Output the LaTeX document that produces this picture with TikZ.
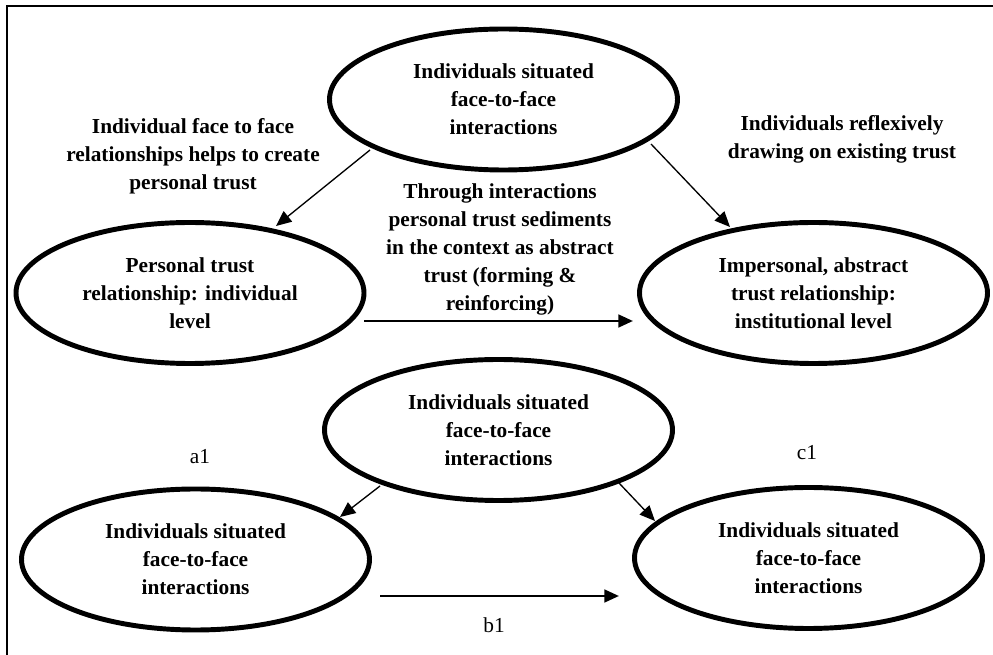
\documentclass[tikz,border=0pt]{standalone}
\usepackage{fontspec}
\setmainfont{Liberation Serif}
\usetikzlibrary{shapes.geometric,arrows.meta}
\tikzset{
  oval/.style={draw, ellipse, line width=3.7pt, minimum width=261pt, minimum height=105.75pt, inner sep=0pt, align=center, font=\fontsize{16pt}{21pt}\selectfont\bfseries},
  lbl/.style={align=center, inner sep=0pt, font=\fontsize{16pt}{21pt}\selectfont\bfseries},
  tag/.style={inner sep=0pt, font=\fontsize{16pt}{21pt}\selectfont},
  thinarrow/.style={line width=1pt, -{Triangle[length=11.5pt,width=10pt]}},
  thickarrow/.style={line width=2pt, -{Triangle[length=11pt,width=9.5pt]}},
}
\begin{document}
\begin{tikzpicture}[x=0.75pt,y=-0.75pt]
\useasboundingbox (0,0) rectangle (993,655);
\draw[line width=1.2pt] (7,655) -- (7,6) -- (993,6);

\node[oval] (top) at (503.5,99.5) {Individuals situated\\face-to-face\\interactions};
\node[oval] (left) at (190,293) {Personal trust\\relationship: individual\\level};
\node[oval] (right) at (813.5,293) {Impersonal, abstract\\trust relationship:\\institutional level};
\node[oval] (mid) at (498.5,430) {Individuals situated\\face-to-face\\interactions};
\node[oval] (bl) at (195.5,559.5) {Individuals situated\\face-to-face\\interactions};
\node[oval] (br) at (808.5,558) {Individuals situated\\face-to-face\\interactions};

\node[lbl] (t1) at (193,156.5) {Individual face to face\\relationships helps to create\\personal trust};
\node[lbl] (t2) at (842,139.5) {Individuals reflexively\\drawing on existing trust};
\node[lbl] (t3) at (500,249) {Through interactions\\personal trust sediments\\in the context as abstract\\trust (forming \&\\reinforcing)};
\node[tag] (a1) at (200,457) {a1};
\node[tag] (c1) at (807,453) {c1};
\node[tag] (b1) at (494,625) {b1};

\coordinate (s1) at (370,150);
\coordinate (e1) at (276,226);
\coordinate (s2) at (651,144);
\coordinate (e2) at (730,227);
\coordinate (s3) at (364,321);
\coordinate (e3) at (633,321);
\coordinate (s4) at (380,486);
\coordinate (e4) at (340,517);
\coordinate (s5) at (619,483);
\coordinate (e5) at (655,521);
\coordinate (s6) at (380,596);
\coordinate (e6) at (619,596);

\draw[thinarrow] (s1) -- (e1);
\draw[thinarrow] (s2) -- (e2);
\draw[thickarrow] (s3) -- (e3);
\draw[thinarrow] (s4) -- (e4);
\draw[thinarrow] (s5) -- (e5);
\draw[thickarrow] (s6) -- (e6);
\end{tikzpicture}
\end{document}
